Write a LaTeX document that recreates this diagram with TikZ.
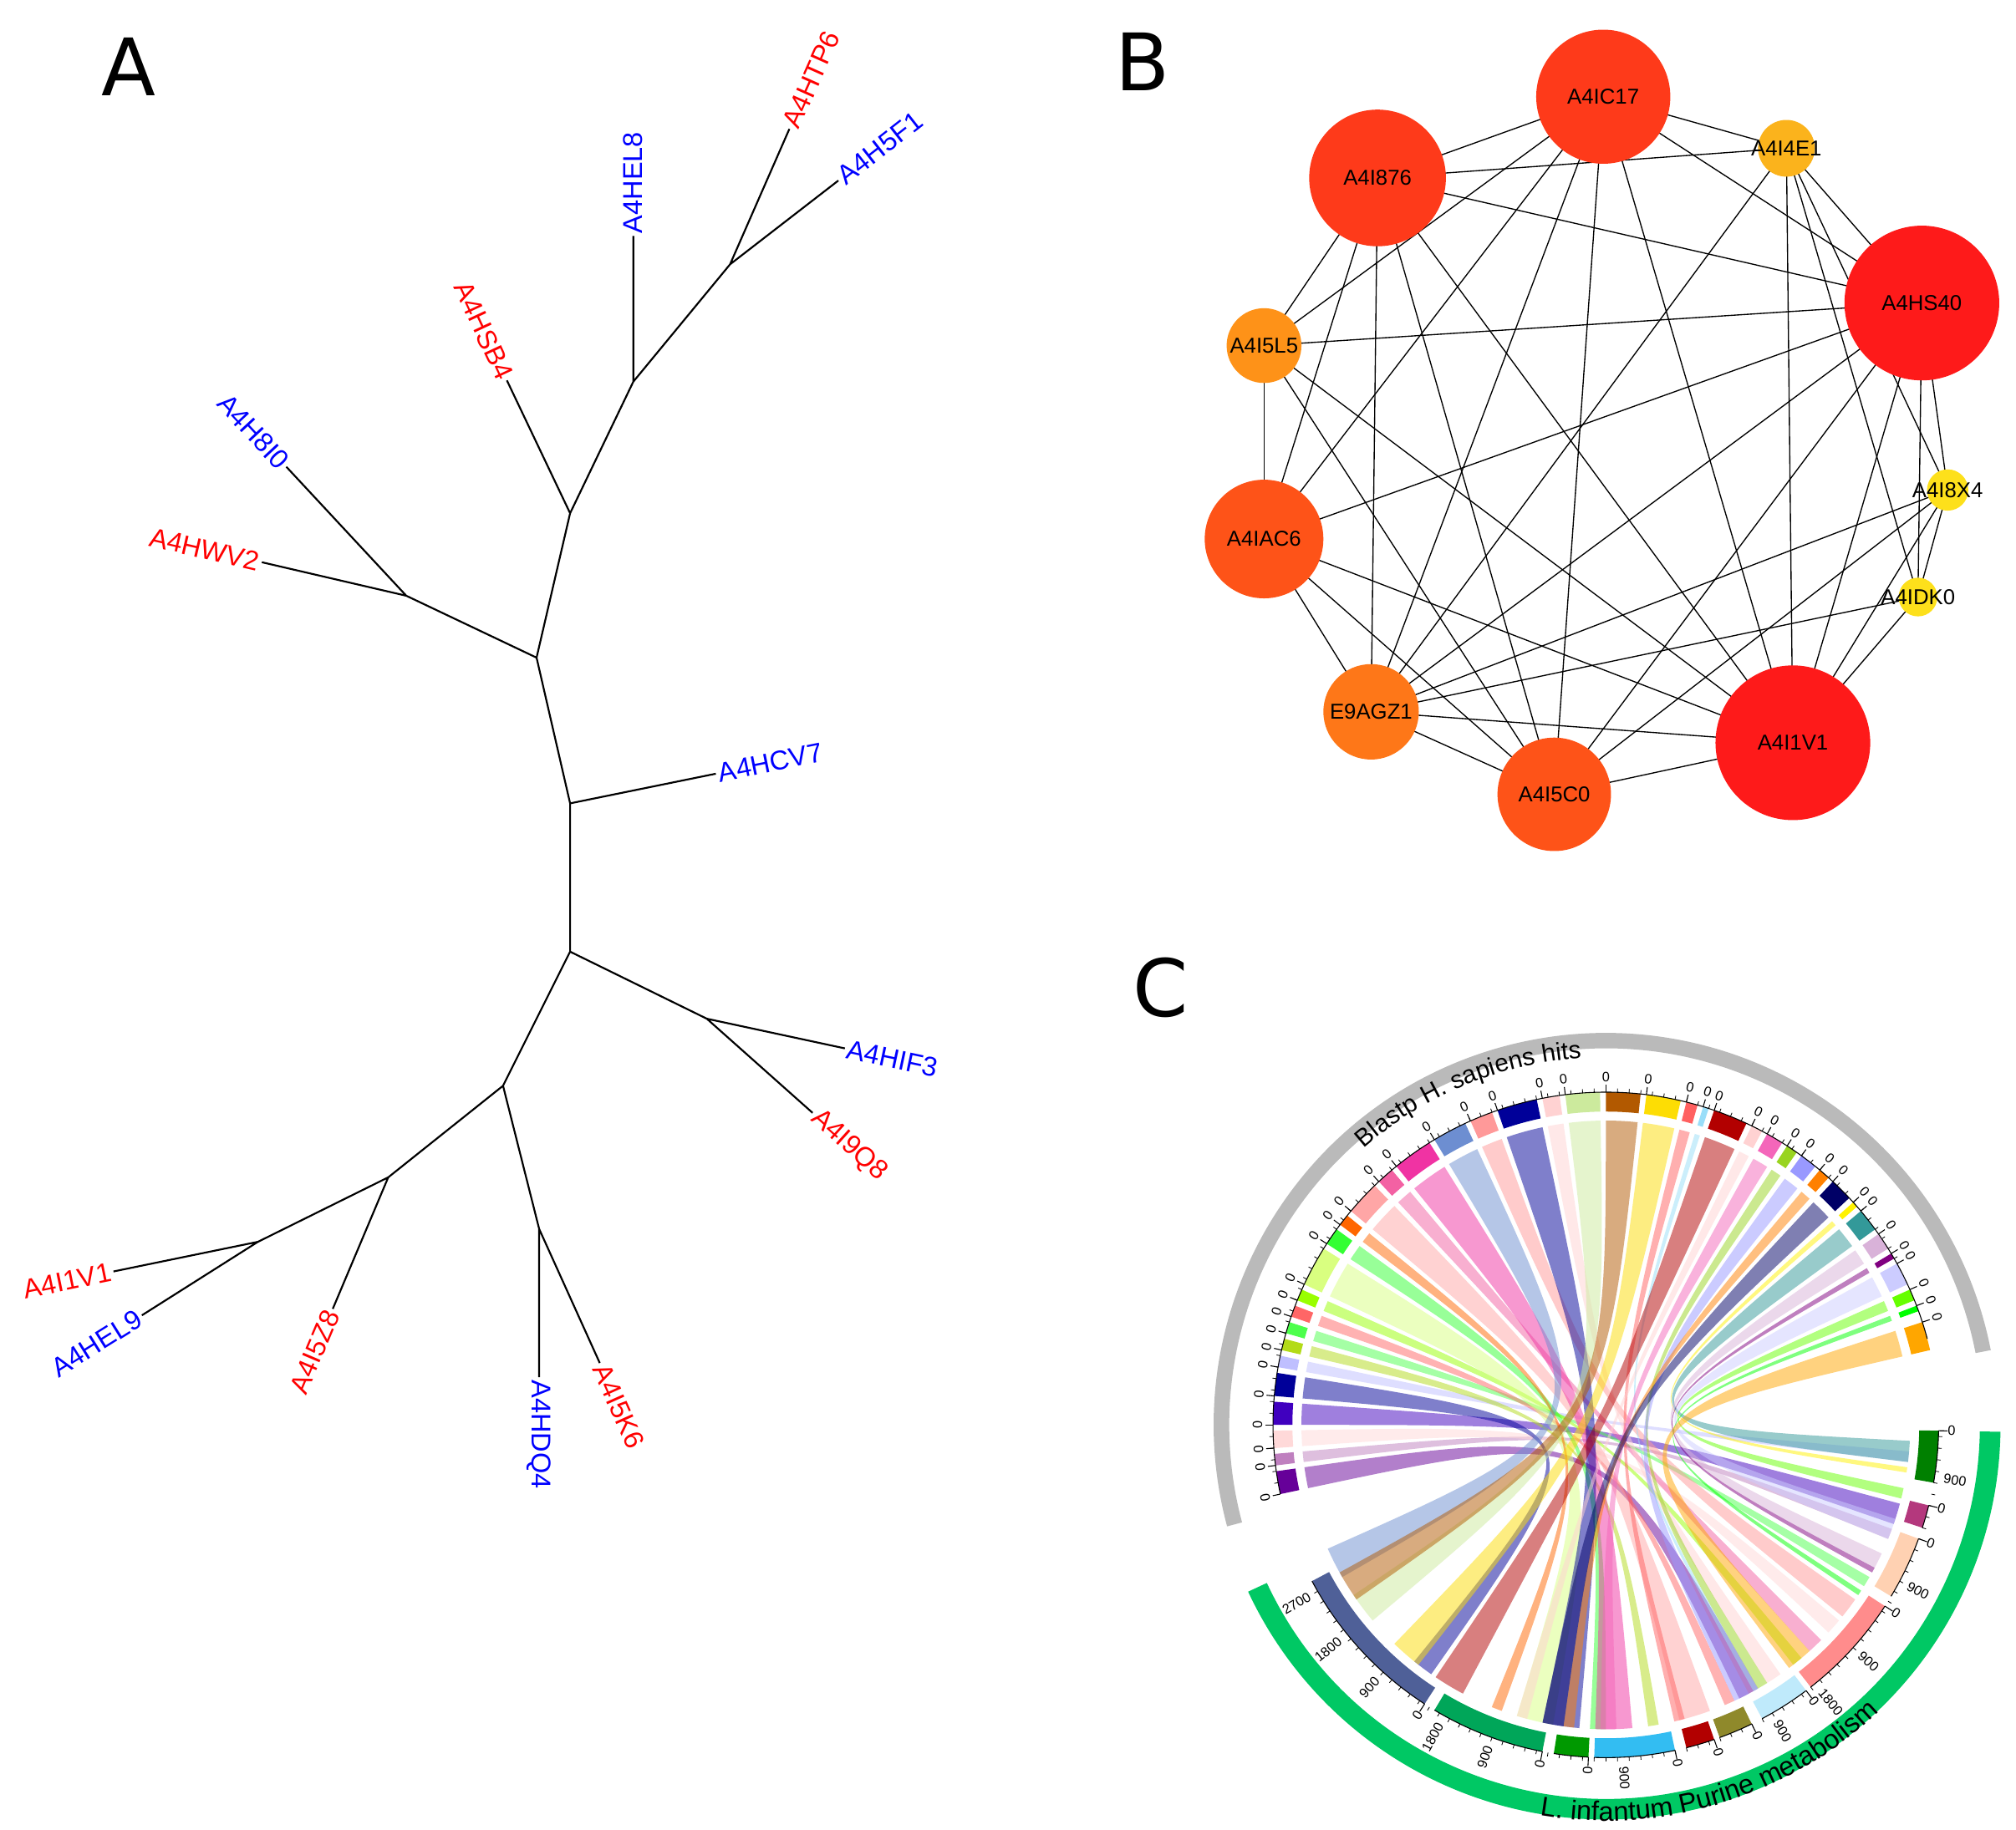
\documentclass[tikz,border=0pt]{standalone}
\usepackage{fontspec}
\setmainfont{Liberation Sans}
\newfontfamily\dejavu{DejaVu Sans}
\usetikzlibrary{decorations.text}
\begin{document}
\begin{tikzpicture}[x=0.02cm,y=-0.02cm,
  br/.style={line width=0.8pt},
  lr/.style={text=red,font=\fontsize{12}{14}\selectfont,inner sep=1pt},
  lb/.style={text=blue,font=\fontsize{12}{14}\selectfont,inner sep=1pt},
  pl/.style={font=\dejavu\fontsize{35}{40}\selectfont},
  pc/.style={circle,inner sep=0pt},
  pt/.style={inner sep=0pt,font=\fontsize{9.5}{10}\selectfont},
  ne/.style={line width=0.5pt},
  tk/.style={font=\fontsize{6}{7}\selectfont,inner sep=0.5pt}]
\useasboundingbox (0,0) rectangle (1563,1419);
\fill[white] (0,0) rectangle (1563,1419);
% panel labels
\node[pl] (LA) at (100,52) {A};
\node[pl] (LB) at (886,48) {B};
\node[pl] (LC) at (900,766) {C};
% ---------- Panel A tree ----------
\coordinate (n1) at (442,623); \coordinate (n2) at (442,738);
\coordinate (n3) at (416,510); \coordinate (n4) at (442,398);
\coordinate (n5) at (491,296); \coordinate (n6) at (566,205);
\coordinate (n7) at (315,462); \coordinate (n8) at (390,842);
\coordinate (n9) at (301,913); \coordinate (n10) at (200,963);
\coordinate (n11) at (418,953); \coordinate (n12) at (548,790);
\coordinate (tHCV7) at (555,600); \coordinate (tHSB4) at (393,295);
\coordinate (tHEL8) at (491,183); \coordinate (tHTP6) at (612,100);
\coordinate (tH5F1) at (650,140); \coordinate (tH8I0) at (222,362);
\coordinate (tHWV2) at (203,436); \coordinate (tHIF3) at (655,813);
\coordinate (tI9Q8) at (630,863); \coordinate (tI5Z8) at (258,1015);
\coordinate (tI1V1) at (88,986); \coordinate (tHEL9) at (110,1020);
\coordinate (tHDQ4) at (418,1068); \coordinate (tI5K6) at (465,1057);
\draw[br] (n3)--(n1)--(n2) (n1)--(tHCV7) (n3)--(n4) (n3)--(n7)
 (n4)--(n5) (n4)--(tHSB4) (n5)--(tHEL8) (n5)--(n6) (n6)--(tHTP6) (n6)--(tH5F1)
 (n7)--(tH8I0) (n7)--(tHWV2) (n2)--(n12) (n2)--(n8) (n12)--(tHIF3) (n12)--(tI9Q8)
 (n8)--(n9) (n8)--(n11) (n9)--(n10) (n9)--(tI5Z8) (n10)--(tI1V1) (n10)--(tHEL9)
 (n11)--(tHDQ4) (n11)--(tI5K6);
\node[lr,anchor=west,rotate=66] at (tHTP6) {A4HTP6};
\node[lb,anchor=west,rotate=38] at (tH5F1) {A4H5F1};
\node[lb,anchor=west,rotate=90] at (tHEL8) {A4HEL8};
\node[lr,anchor=east,rotate=-65] at (tHSB4) {A4HSB4};
\node[lb,anchor=east,rotate=-47] at (tH8I0) {A4H8I0};
\node[lr,anchor=east,rotate=-13] at (tHWV2) {A4HWV2};
\node[lb,anchor=west,rotate=11.5] at (tHCV7) {A4HCV7};
\node[lb,anchor=west,rotate=-12] at (tHIF3) {A4HIF3};
\node[lr,anchor=west,rotate=-42] at (tI9Q8) {A4I9Q8};
\node[lr,anchor=west,rotate=-66] at (tI5K6) {A4I5K6};
\node[lb,anchor=west,rotate=-90] at (tHDQ4) {A4HDQ4};
\node[lr,anchor=east,rotate=67] at (tI5Z8) {A4I5Z8};
\node[lb,anchor=east,rotate=32] at (tHEL9) {A4HEL9};
\node[lr,anchor=east,rotate=11.6] at (tI1V1) {A4I1V1};
% ---------- Panel B network ----------
\coordinate (IC17) at (1243,75); \coordinate (I4E1) at (1385,115);
\coordinate (I876) at (1068,138); \coordinate (HS40) at (1490,235);
\coordinate (I5L5) at (980,268); \coordinate (I8X4) at (1510,380);
\coordinate (IAC6) at (980,418); \coordinate (IDK0) at (1487,463);
\coordinate (E9AG) at (1063,552); \coordinate (I1V1) at (1390,576);
\coordinate (I5C0) at (1205,616);
\foreach \a/\b in {IC17/I4E1,IC17/I876,IC17/HS40,IC17/I5L5,IC17/IAC6,IC17/E9AG,IC17/I5C0,IC17/I1V1,
 I876/I4E1,I876/HS40,I876/I5L5,I876/IAC6,I876/E9AG,I876/I5C0,I876/I1V1,
 I4E1/HS40,I4E1/I8X4,I4E1/IDK0,I4E1/I1V1,I4E1/E9AG,
 HS40/I5L5,HS40/IAC6,HS40/E9AG,HS40/I8X4,HS40/IDK0,HS40/I1V1,HS40/I5C0,
 I5L5/IAC6,I5L5/I5C0,I5L5/I1V1,IAC6/E9AG,IAC6/I5C0,IAC6/I1V1,
 E9AG/I5C0,E9AG/I1V1,E9AG/I8X4,E9AG/IDK0,I5C0/I1V1,I5C0/I8X4,I1V1/I8X4,I1V1/IDK0,I8X4/IDK0}
 \draw[ne] (\a)--(\b);
\definecolor{c1}{HTML}{FE1A1A}\definecolor{c2}{HTML}{FE3A1A}\definecolor{c3}{HTML}{FE5318}
\definecolor{c4}{HTML}{FE7718}\definecolor{c5}{HTML}{FE9218}\definecolor{c6}{HTML}{FBB31C}
\definecolor{c7}{HTML}{FDE01B}
\foreach \n/\c/\s/\t in {IC17/c2/2.08/A4IC17,I4E1/c6/0.88/A4I4E1,I876/c2/2.12/A4I876,HS40/c1/2.4/A4HS40,
 I5L5/c5/1.16/A4I5L5,I8X4/c7/0.64/A4I8X4,IAC6/c3/1.84/A4IAC6,IDK0/c7/0.6/A4IDK0,
 E9AG/c4/1.48/E9AGZ1,I1V1/c1/2.4/A4I1V1,I5C0/c3/1.76/A4I5C0}{
 \node[pc,fill=\c,minimum size=\s cm] (c\n) at (\n) {};
 \node[pt] (t\n) at (\n) {\t};
}
% ---------- Panel C chord ----------
\definecolor{gr}{HTML}{00C864}
\coordinate (cc) at (1245,1105);
\begin{scope}[shift={(cc)},yscale=-1]
\fill[black!27] (11:292) arc[start angle=11,end angle=195,radius=292] -- (195:304) arc[start angle=195,end angle=11,radius=304] -- cycle;
\fill[gr] (-155:290) arc[start angle=-155,end angle=-1,radius=290] -- (-1:306) arc[start angle=-1,end angle=-155,radius=306] -- cycle;
% chords
\foreach \aa/\ab/\col/\ba in {192/188/violet!80!blue/-60,187/185/violet!50/-20,184/181/pink!60/-40,
 180/176/blue!50!violet/-15,175/171/blue!60!black/-125,170/168/blue!25/-5,167/165/yellow!70!green/-80,
 164/162/green!70/-30,161/159/red!60/-65,158/156/green!40!yellow/-50,155/148/green!30!yellow!50/-100,
 147/144/green!80/-90,143/141/orange!80!red/-110,140/134/red!35/-70,133/130/magenta!50!pink/-45,
 129/122/magenta!80/-85,121/115/cyan!40!blue!60/-150,114/110/red!40/-35,109/102/blue!60!black/-95,
 101/98/pink!70/-55,97/91/yellow!50!green!40/-140,90/84/orange!70!black/-145,83/77/yellow!80!orange/-128,
 76/74/red!50!pink/-75,73/72/cyan!40/-60,71/65/red!70!black/-118,64/62/pink!70/-105,61/58/magenta!60/-88,
 57/55/yellow!60!green/-58,54/51/blue!40/-62,50/48/orange/-96,47/43/blue!40!black/-98,42/41/yellow/-8,
 40/36/teal!80/-3,35/32/violet!30/-25,31/30/violet/-28,29/25/blue!20/-18,24/22/green!60!yellow/-12,
 21/20/green/-33,18/13/orange!70!yellow/-48}{
 \pgfmathsetmacro\bb{\ba-(\aa-\ab)}
 \fill[\col,opacity=0.5] (\aa:236) arc[start angle=\aa,end angle=\ab,radius=236] .. controls (0,0) .. (\ba:236) arc[start angle=\ba,end angle=\bb,radius=236] .. controls (0,0) .. cycle;
 \fill[\col] (\aa:243) arc[start angle=\aa,end angle=\ab,radius=243] -- (\ab:258) arc[start angle=\ab,end angle=\aa,radius=258] -- cycle;
 \draw (\aa:258)--(\aa:264);
 \node[tk,rotate=\aa-90] at (\aa:270) {0};
}
% lower segments
\foreach \aa/\ab/\col in {-123/-152/cyan!30!blue!70!black!90,-101/-121/teal!70!green,-93/-99/green!60!black,
 -78/-92/cyan!80,-71/-76/red!70!black,-64/-70/olive!70!gray,-53/-62/cyan!25,-33/-52/red!45,-20/-31/red!20!orange!30,
 -14/-18/magenta!70!black,-1/-10/green!50!black}{
 \fill[\col] (\aa:243) arc[start angle=\aa,end angle=\ab,radius=243] -- (\ab:258) arc[start angle=\ab,end angle=\aa,radius=258] -- cycle;
 \draw (\aa:258) arc[start angle=\aa,end angle=\ab,radius=258];
 \draw (\aa:258)--(\aa:265);
}
\foreach \t in {-150,-148,...,-2}{\draw[line width=0.3pt] (\t:258)--(\t:261);}
\foreach \t in {30,32,...,190}{\draw[line width=0.3pt] (\t:258)--(\t:261);}
\draw (15:258) arc[start angle=15,end angle=192,radius=258];
% lower labels
\foreach \a/\l in {-123/0,-132/900,-141/1800,-150/2700,-101/0,-110/900,-119/1800,-93/0,-78/0,-87/900,-71/0,-64/0,-53/0,-60/900,
 -33/0,-42/900,-51/1800,-20/0,-28/900,-14/0,-1/0,-9/900}{
 \ifdim \a pt<-90pt
  \node[tk,anchor=east,rotate=\a+180] at (\a:264) {\l};
 \else
  \node[tk,anchor=west,rotate=\a] at (\a:264) {\l};
 \fi}
% curved titles
\path[decorate,decoration={text along path,text align=center,text={|\fontsize{11}{12}\selectfont|Blastp H. sapiens hits}}] (150:285) arc[start angle=150,end angle=75,radius=285];
\path[decorate,decoration={text along path,text align=center,text={|\fontsize{12}{13}\selectfont|L. infantum Purine metabolism}}] (-110:307) arc[start angle=-110,end angle=-36,radius=307];
\end{scope}
\end{tikzpicture}
\end{document}
